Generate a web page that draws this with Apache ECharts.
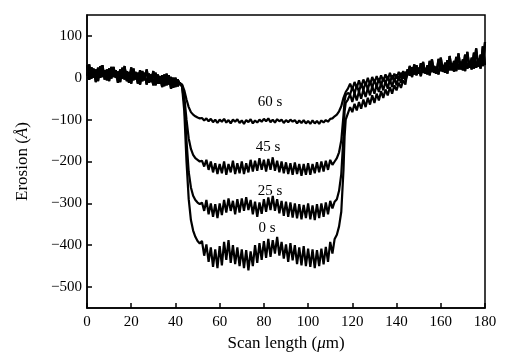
<!DOCTYPE html>
<html>
<head>
<meta charset="utf-8">
<script src="https://cdn.jsdelivr.net/npm/echarts@6/dist/echarts.min.js"></script>
<style>
  html, body { margin: 0; padding: 0; background: #fff; }
  #chart { width: 525px; height: 359px; }
</style>
</head>
<body>
<div id="chart"></div>
<script>
// 扫描曲线数据（1 µm 采样，从图上读取）
const leftStart = 0   // 左段 x = 0..42
const leftA = [30, -5, 25, 0, 20, -8, 28, 2, 18, -6, 22, -2, 26, 0, 15, -10, 24, -4, 16, -12,
  25, -6, 14, -14, 18, -8, 12, -16, 10, -10, 16, -18, 8, -14, 6, -20, 10, -16, 2, -24, 0, -20, -12]
const leftB = [5, 32, -2, 22, -10, 24, 0, 30, -4, 20, -8, 26, 2, 18, -12, 20, -2, 28, -8, 14,
  -14, 22, -4, 12, -16, 16, -6, 20, -12, 8, -18, 12, -14, 4, -22, 8, -18, 6, -26, 0, -22, -4, -14]

const rightStart = 145 // 右段 x = 145..180
const rightA = [20, 5, 25, 8, 30, 10, 35, 12, 22, 8, 40, 14, 28, 10, 45, 16, 30, 12, 42, 18,
  34, 15, 50, 20, 38, 18, 55, 22, 40, 20, 60, 24, 45, 22, 75, 30]
const rightB = [8, 28, 2, 32, 6, 24, 4, 38, 10, 30, 6, 44, 12, 26, 8, 48, 14, 36, 10, 52,
  18, 40, 16, 58, 20, 44, 16, 62, 24, 48, 22, 70, 26, 55, 28, 85]

const troughStart = 52 // 各曲线底部 x = 52..
const trough60 = [-96, -102, -97, -104, -98, -106, -100, -108, -100, -105, -98, -107, -101, -109, -100, -105, -99, -108, -102, -110,
  -101, -106, -99, -109, -102, -107, -100, -105, -98, -104, -97, -106, -100, -107, -99, -104, -100, -108, -101, -106,
  -100, -105, -101, -109, -102, -108, -101, -109, -103, -110, -102, -109, -103, -110, -102, -107, -101, -105, -98, -97]
const trough45 = [-198, -212, -196, -220, -200, -226, -204, -230, -206, -228, -200, -232, -206, -226, -198, -230, -204, -228, -200, -230,
  -204, -226, -196, -224, -198, -222, -192, -220, -196, -224, -194, -220, -190, -222, -198, -226, -200, -228, -202, -230,
  -204, -232, -202, -230, -206, -234, -206, -232, -204, -232, -206, -228, -202, -226, -200, -224, -198, -220, -196, -208]
const trough25 = [-298, -318, -292, -326, -300, -332, -302, -335, -300, -328, -292, -322, -288, -318, -294, -326, -290, -322, -288, -318,
  -285, -316, -292, -326, -296, -332, -298, -325, -290, -320, -286, -316, -282, -318, -290, -324, -294, -330, -296, -332,
  -298, -334, -300, -336, -302, -338, -304, -335, -300, -338, -305, -340, -302, -335, -300, -332, -298, -326, -294, -312, -296]
const trough0 = [-390, -425, -398, -440, -405, -452, -410, -455, -402, -448, -392, -435, -388, -442, -400, -445, -405, -450, -410, -455,
  -412, -460, -415, -450, -400, -442, -395, -435, -390, -430, -385, -428, -388, -420, -380, -425, -392, -432, -398, -440,
  -395, -436, -400, -445, -405, -448, -402, -450, -408, -452, -410, -455, -412, -450, -408, -446, -404, -440, -392, -420, -385]

// 下降段 [x, y]
const drop60 = [[43, -16], [44, -30], [45, -52], [46, -70], [47, -82], [48, -88], [49, -92], [50, -95], [51, -97]]
const drop45 = [[43, -18], [44, -45], [45, -100], [46, -145], [47, -170], [48, -184], [49, -192], [50, -196], [51, -200]]
const drop25 = [[43, -20], [44, -60], [45, -150], [46, -225], [47, -262], [48, -282], [49, -292], [50, -298], [51, -302]]
const drop0 = [[43, -22], [44, -80], [45, -200], [46, -290], [47, -340], [48, -365], [49, -380], [50, -390], [51, -396]]

// 上升段 [x, y]
const rise60 = [[112, -92], [113, -88], [114, -80], [115, -68], [116, -48], [117, -34], [118, -26], [119, -14], [120, -28], [121, -10],
  [122, -24], [123, -6], [124, -22], [125, -4], [126, -18], [127, 0], [128, -16], [129, 2], [130, -12], [131, 4], [132, -10],
  [133, 6], [134, -8], [135, 8], [136, -6], [137, 12], [138, -4], [139, 10], [140, -2], [141, 14], [142, 0], [143, 16], [144, 2]]
const rise45 = [[112, -200], [113, -192], [114, -178], [115, -150], [116, -90], [116.5, -55], [117, -42], [118, -36], [119, -40], [120, -22],
  [121, -38], [122, -18], [123, -34], [124, -14], [125, -30], [126, -10], [127, -28], [128, -8], [129, -24], [130, -4], [131, -22],
  [132, -2], [133, -18], [134, 0], [135, -14], [136, 4], [137, -12], [138, 6], [139, -8], [140, 8], [141, -6], [142, 12], [143, -2], [144, 14]]
const rise25 = [[113, -290], [114, -270], [115, -230], [116, -140], [116.5, -80], [117, -60], [118, -52], [119, -40], [120, -58], [121, -36],
  [122, -54], [123, -32], [124, -50], [125, -28], [126, -46], [127, -24], [128, -42], [129, -20], [130, -38], [131, -16], [132, -34],
  [133, -12], [134, -30], [135, -8], [136, -26], [137, -4], [138, -22], [139, 0], [140, -18], [141, 4], [142, -12], [143, 8], [144, -6]]
const rise0 = [[113, -375], [114, -355], [115, -320], [116, -220], [116.5, -140], [117, -100], [118, -85], [119, -70], [120, -82], [121, -62],
  [122, -78], [123, -58], [124, -74], [125, -52], [126, -70], [127, -48], [128, -64], [129, -42], [130, -60], [131, -38], [132, -54],
  [133, -32], [134, -48], [135, -28], [136, -42], [137, -22], [138, -38], [139, -18], [140, -30], [141, -12], [142, -24], [143, -6], [144, -16]]

// 曲线标注
const curveLabels = [[82.8, -59, '60 s'], [81.9, -166, '45 s'], [82.8, -270, '25 s'], [81.4, -360, '0 s']]

const xTicks = [0, 20, 40, 60, 80, 100, 120, 140, 160, 180]
const yTicks = [-500, -400, -300, -200, -100, 0, 100]

const buildCurve = (left, drop, trough, rise, right) => {
  const pts = left.map((y, i) => [leftStart + i, y])
  drop.forEach(p => pts.push(p))
  trough.forEach((y, i) => pts.push([troughStart + i, y]))
  rise.forEach(p => pts.push(p))
  right.forEach((y, i) => pts.push([rightStart + i, y]))
  return pts
}

const curves = [
  buildCurve(leftA, drop0, trough0, rise0, rightA),
  buildCurve(leftB, drop25, trough25, rise25, rightB),
  buildCurve(leftA, drop45, trough45, rise45, rightB),
  buildCurve(leftB, drop60, trough60, rise60, rightA)
]

const serif = '"Liberation Serif", "DejaVu Serif", serif'
const minus = v => String(v).replace('-', '\u2212')

const chart = echarts.init(document.getElementById('chart'))
chart.setOption({
  animation: false,
  grid: {
    left: 87, right: 40, top: 15, bottom: 51,
    show: true, borderColor: '#000', borderWidth: 1.5
  },
  xAxis: {
    type: 'value', min: 0, max: 180, interval: 20,
    name: 'Scan length ({i|μ}m)', nameLocation: 'middle', nameGap: 24,
    nameTextStyle: { fontFamily: serif, fontSize: 17, color: '#000', rich: { i: { fontStyle: 'italic', fontFamily: serif, fontSize: 17 } } },
    axisLine: { onZero: false, lineStyle: { color: '#000', width: 1.5 } },
    axisTick: { inside: true, length: 5, lineStyle: { color: '#000', width: 1.5 }, customValues: xTicks },
    axisLabel: { customValues: xTicks, fontFamily: serif, fontSize: 15, color: '#000', margin: 7 },
    splitLine: { show: false }
  },
  yAxis: {
    type: 'value', min: -550, max: 150,
    name: 'Erosion ({i|Å})', nameLocation: 'middle', nameGap: 56,
    nameTextStyle: { fontFamily: serif, fontSize: 17, color: '#000', rich: { i: { fontStyle: 'italic', fontFamily: serif, fontSize: 17 } } },
    axisLine: { onZero: false, lineStyle: { color: '#000', width: 1.5 } },
    axisTick: { inside: true, length: 5, lineStyle: { color: '#000', width: 1.5 }, customValues: yTicks },
    axisLabel: { customValues: yTicks, fontFamily: serif, fontSize: 15, color: '#000', margin: 5, formatter: minus },
    splitLine: { show: false }
  },
  series: curves.map(d => ({
    type: 'line', data: d, showSymbol: false, symbol: 'none',
    lineStyle: { color: '#000', width: 2.2 }, silent: true
  })).concat([{
    type: 'scatter', data: curveLabels, symbolSize: 0, silent: true,
    itemStyle: { color: '#000', opacity: 1 },
    label: {
      show: true, position: 'inside', formatter: p => p.data[2],
      fontFamily: serif, fontSize: 15, color: '#000', textBorderWidth: 0
    }
  }])
})
</script>
</body>
</html>
